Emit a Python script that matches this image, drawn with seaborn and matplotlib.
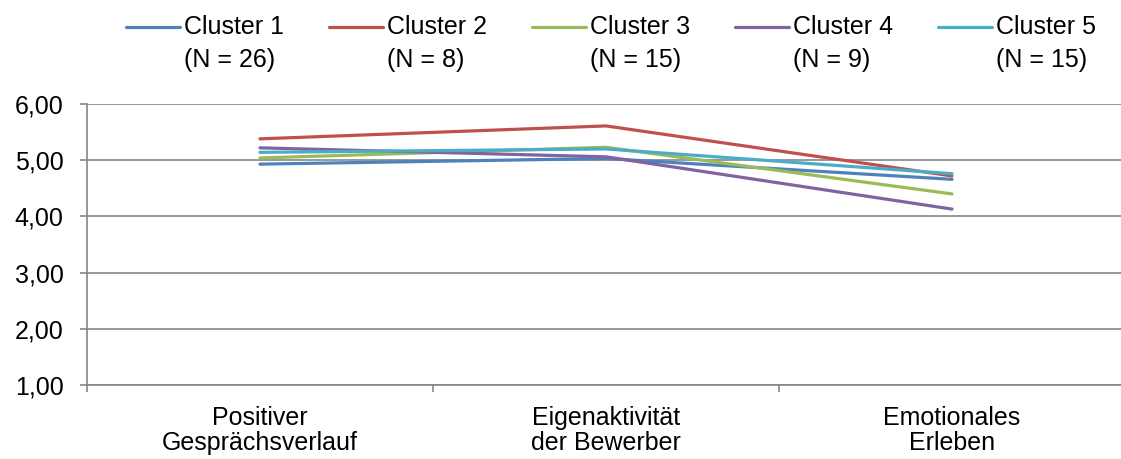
import matplotlib
matplotlib.use("Agg")
import matplotlib.pyplot as plt
from matplotlib.lines import Line2D
from matplotlib.ticker import FixedLocator, FuncFormatter
import seaborn as sns
import pandas as pd

# Scale means per cluster
categories = ["Positiver\nGesprächsverlauf", "Eigenaktivität\nder Bewerber", "Emotionales\nErleben"]
cluster_names = ["Cluster 1", "Cluster 2", "Cluster 3", "Cluster 4", "Cluster 5"]
cluster_sizes = ["(N = 26)", "(N = 8)", "(N = 15)", "(N = 9)", "(N = 15)"]
cluster1 = [4.93, 5.03, 4.66]
cluster2 = [5.38, 5.61, 4.72]
cluster3 = [5.04, 5.23, 4.40]
cluster4 = [5.22, 5.06, 4.13]
cluster5 = [5.14, 5.20, 4.76]
colors = ["#4F81BD", "#C0504D", "#9BBB59", "#8064A2", "#4BACC6"]

series = [cluster1, cluster2, cluster3, cluster4, cluster5]
df = pd.DataFrame(
    [(cat, cl, v) for cl, vals in zip(cluster_names, series) for cat, v in zip(categories, vals)],
    columns=["Skala", "Cluster", "Mittelwert"],
)

sns.set_style("white")
plt.rcParams["font.family"] = ["Liberation Sans", "DejaVu Sans"]
plt.rcParams["text.color"] = "black"
plt.rcParams["xtick.labelcolor"] = "black"
plt.rcParams["ytick.labelcolor"] = "black"

W, H = 1121, 459
FS = 18
fig = plt.figure(figsize=(W / 100, H / 100), dpi=100)
ax = fig.add_axes([87 / W, 74 / H, 1038 / W, 281 / H])

sns.lineplot(data=df, x="Skala", y="Mittelwert", hue="Cluster", hue_order=cluster_names,
             palette=colors, linewidth=2.3, sort=False, ax=ax, legend=False)

grid_c = "#868686"
ax.set_xlim(-0.5, 2.5)
ax.set_ylim(1, 6)
ax.yaxis.set_major_locator(FixedLocator([1, 2, 3, 4, 5, 6]))
ax.yaxis.set_major_formatter(FuncFormatter(lambda v, _: f"{v:.2f}".replace(".", ",")))
ax.grid(axis="y", color=grid_c, linewidth=1.2)
ax.set_axisbelow(True)

ax.set_xticks(range(len(categories)))
ax.set_xticklabels(categories, fontsize=FS, linespacing=1.05)
ax.set_xticks([-0.5, 0.5, 1.5, 2.5], minor=True)
ax.tick_params(axis="x", which="major", length=0, pad=15)
ax.tick_params(axis="x", which="minor", length=5, width=1.2, color=grid_c, direction="out")
ax.tick_params(axis="y", which="major", length=5, width=1.2, color=grid_c,
               direction="out", labelsize=FS, pad=12)
ax.tick_params(bottom=True, left=True, which="both")

for side in ["top", "right"]:
    ax.spines[side].set_visible(False)
for side in ["left", "bottom"]:
    ax.spines[side].set_color(grid_c)
    ax.spines[side].set_linewidth(1.2)

ax.set_xlabel("")
ax.set_ylabel("")

# Legend row: line key aligned with the first text line, size note below
for i, (name, size, c) in enumerate(zip(cluster_names, cluster_sizes, colors)):
    x0 = 126 + i * 203
    fig.add_artist(Line2D([x0 / W, (x0 + 54) / W], [1 - 27 / H, 1 - 27 / H],
                          color=c, linewidth=2.3, solid_capstyle="round"))
    fig.text((x0 + 58) / W, 1 - 27 / H, name, fontsize=FS, va="center", ha="left")
    fig.text((x0 + 58) / W, 1 - 60 / H, size, fontsize=FS, va="center", ha="left")

fig.savefig("out.png", dpi=100)
